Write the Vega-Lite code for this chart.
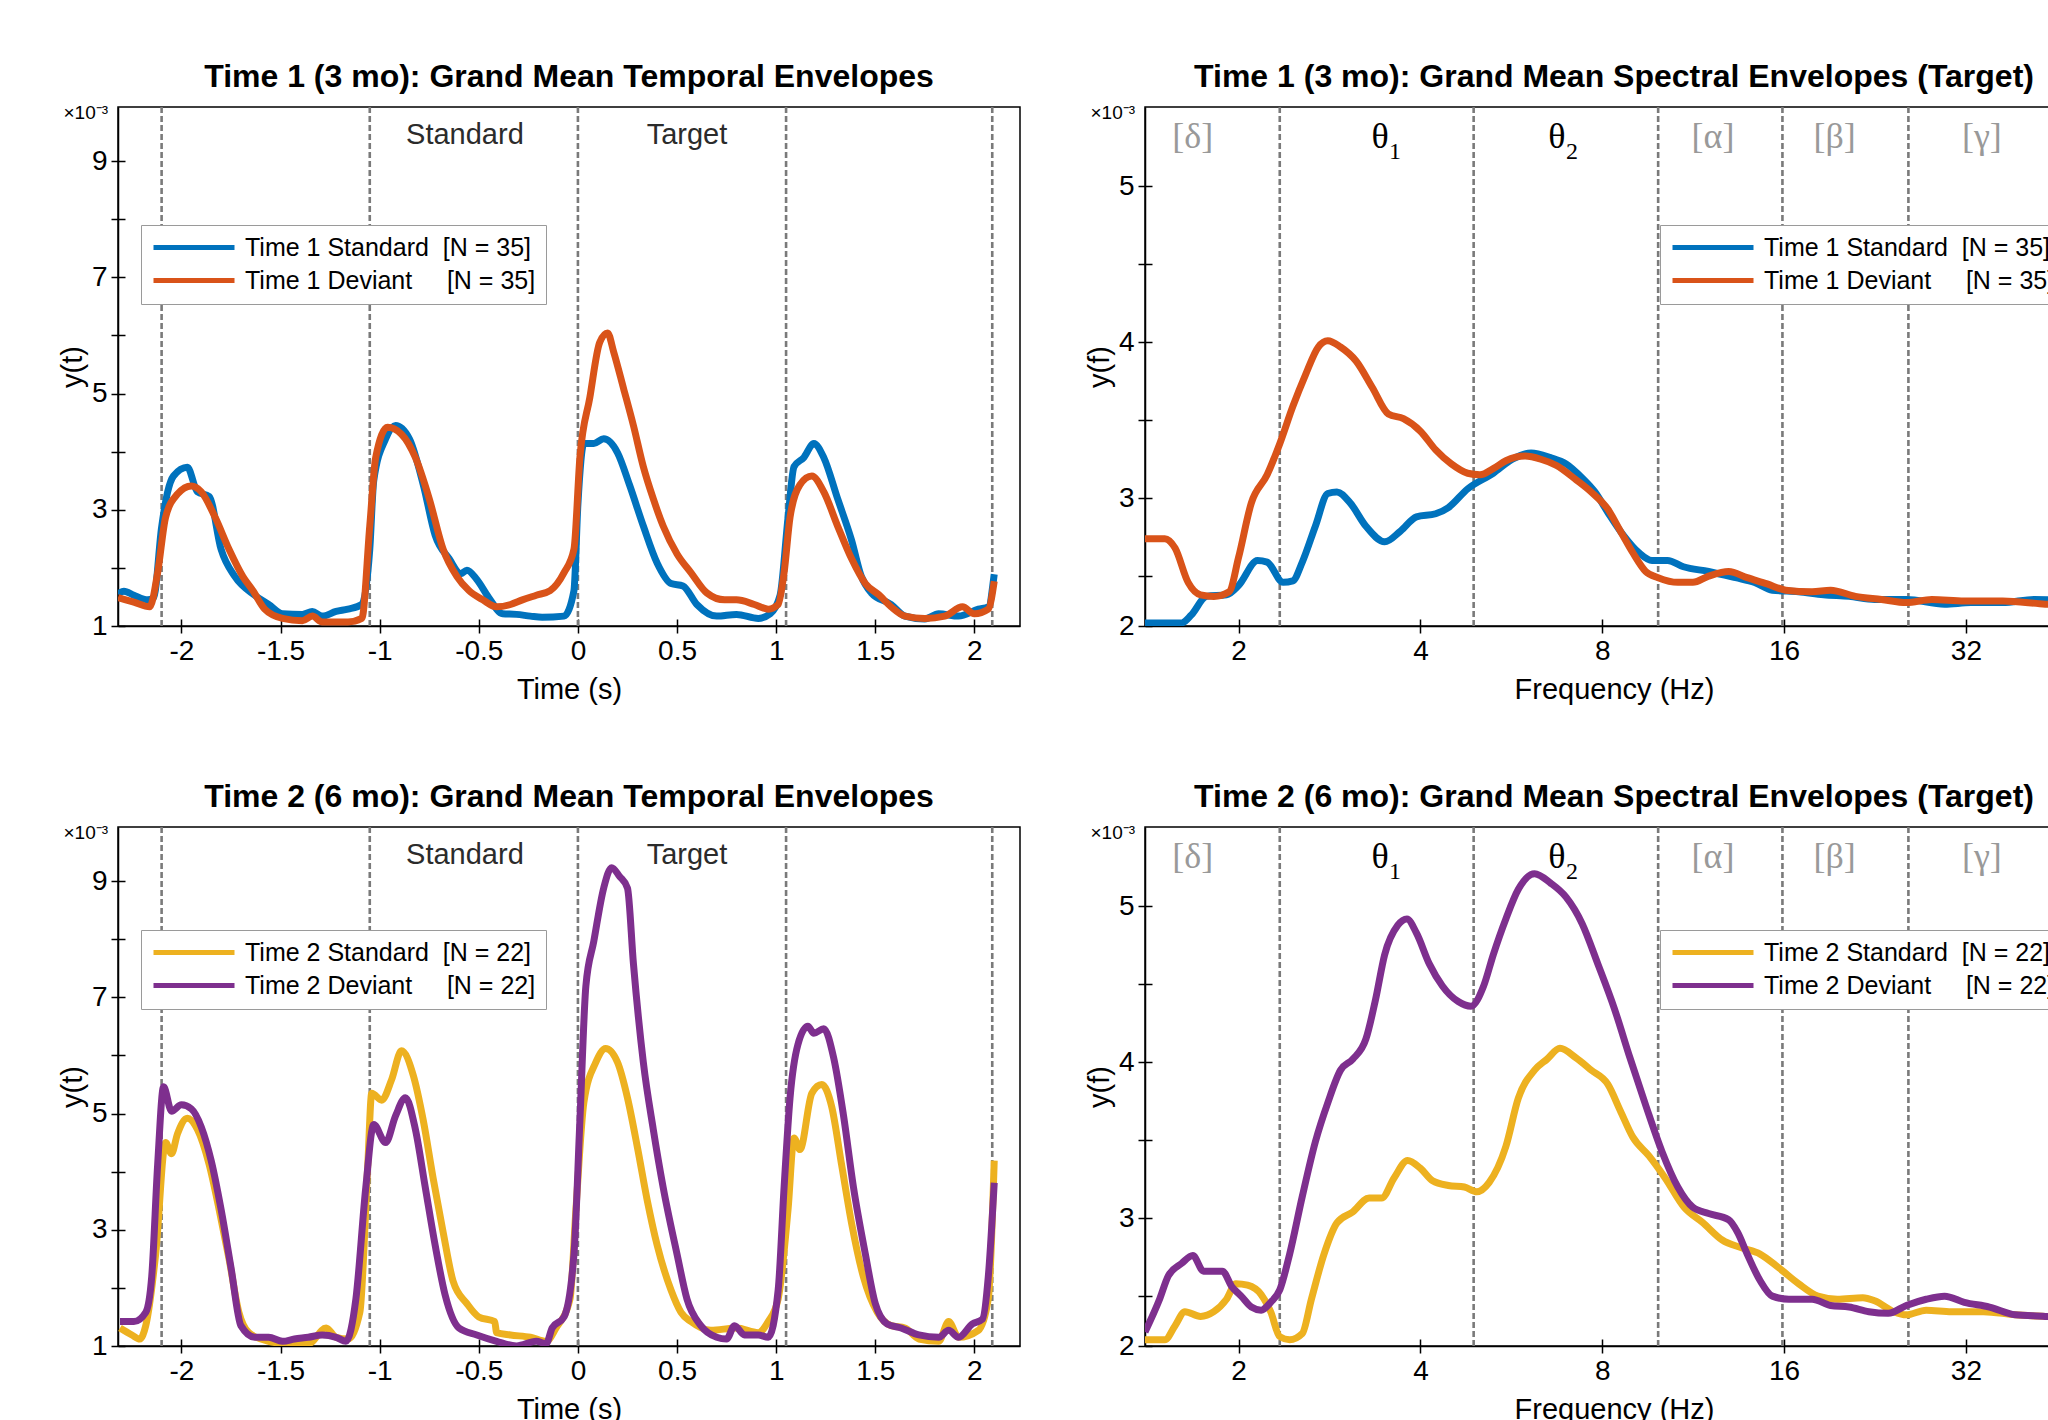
{
  "$schema": "https://vega.github.io/schema/vega-lite/v6.json",
  "padding": {"left": 57, "top": 60, "right": 0, "bottom": 0},
  "background": "white",
  "config": {
    "view": {"stroke": "black", "strokeWidth": 1.5},
    "font": "Liberation Sans",
    "axis": {"grid": false, "domainColor": "black", "domainWidth": 1.5, "tickColor": "black", "tickWidth": 1.5, "labelColor": "black", "titleColor": "black", "labelFont": "Liberation Sans", "titleFont": "Liberation Sans", "labelFontSize": 28, "titleFontSize": 29, "titleFontWeight": "normal", "labelFlush": false, "labelOverlap": false},
    "title": {"font": "Liberation Sans", "fontSize": 32, "fontWeight": "bold", "color": "black", "offset": 9},
    "legend": {"orient": "none", "direction": "vertical", "symbolType": "stroke", "symbolSize": 6561, "symbolStrokeWidth": 5, "clipHeight": 25, "labelFontSize": 25, "labelFont": "Liberation Sans", "labelColor": "black", "strokeColor": "#9a9a9a", "fillColor": "white", "padding": 10, "rowPadding": 7, "labelOffset": 8, "labelLimit": 600}
  },
  "datasets": {
    "t1_time": [
      {"s":"Standard","t":-2.32,"v":1.55},{"s":"Standard","t":-2.29,"v":1.6},{"s":"Standard","t":-2.24,"v":1.53},{"s":"Standard","t":-2.17,"v":1.45},{"s":"Standard","t":-2.14,"v":1.49},{"s":"Standard","t":-2.1,"v":2.7},{"s":"Standard","t":-2.07,"v":3.3},{"s":"Standard","t":-2.04,"v":3.58},{"s":"Standard","t":-1.97,"v":3.73},{"s":"Standard","t":-1.92,"v":3.31},{"s":"Standard","t":-1.86,"v":3.23},{"s":"Standard","t":-1.8,"v":2.32},{"s":"Standard","t":-1.73,"v":1.85},{"s":"Standard","t":-1.63,"v":1.53},{"s":"Standard","t":-1.56,"v":1.37},{"s":"Standard","t":-1.49,"v":1.21},{"s":"Standard","t":-1.39,"v":1.2},{"s":"Standard","t":-1.34,"v":1.25},{"s":"Standard","t":-1.29,"v":1.17},{"s":"Standard","t":-1.22,"v":1.25},{"s":"Standard","t":-1.16,"v":1.29},{"s":"Standard","t":-1.09,"v":1.37},{"s":"Standard","t":-1.05,"v":2.32},{"s":"Standard","t":-1.03,"v":3.5},{"s":"Standard","t":-0.97,"v":4.22},{"s":"Standard","t":-0.92,"v":4.45},{"s":"Standard","t":-0.85,"v":4.22},{"s":"Standard","t":-0.78,"v":3.43},{"s":"Standard","t":-0.72,"v":2.56},{"s":"Standard","t":-0.65,"v":2.16},{"s":"Standard","t":-0.59,"v":1.9},{"s":"Standard","t":-0.56,"v":1.96},{"s":"Standard","t":-0.51,"v":1.8},{"s":"Standard","t":-0.45,"v":1.49},{"s":"Standard","t":-0.38,"v":1.21},{"s":"Standard","t":-0.31,"v":1.2},{"s":"Standard","t":-0.24,"v":1.17},{"s":"Standard","t":-0.18,"v":1.15},{"s":"Standard","t":-0.07,"v":1.17},{"s":"Standard","t":-0.02,"v":1.61},{"s":"Standard","t":0.0,"v":3.1},{"s":"Standard","t":0.03,"v":4.14},{"s":"Standard","t":0.08,"v":4.14},{"s":"Standard","t":0.13,"v":4.22},{"s":"Standard","t":0.2,"v":3.98},{"s":"Standard","t":0.26,"v":3.43},{"s":"Standard","t":0.33,"v":2.72},{"s":"Standard","t":0.4,"v":2.08},{"s":"Standard","t":0.47,"v":1.73},{"s":"Standard","t":0.53,"v":1.69},{"s":"Standard","t":0.6,"v":1.37},{"s":"Standard","t":0.7,"v":1.17},{"s":"Standard","t":0.8,"v":1.2},{"s":"Standard","t":0.91,"v":1.13},{"s":"Standard","t":0.97,"v":1.21},{"s":"Standard","t":1.02,"v":1.53},{"s":"Standard","t":1.06,"v":2.87},{"s":"Standard","t":1.09,"v":3.74},{"s":"Standard","t":1.14,"v":3.9},{"s":"Standard","t":1.19,"v":4.14},{"s":"Standard","t":1.24,"v":3.9},{"s":"Standard","t":1.31,"v":3.19},{"s":"Standard","t":1.38,"v":2.48},{"s":"Standard","t":1.43,"v":1.85},{"s":"Standard","t":1.48,"v":1.57},{"s":"Standard","t":1.58,"v":1.37},{"s":"Standard","t":1.65,"v":1.17},{"s":"Standard","t":1.75,"v":1.12},{"s":"Standard","t":1.82,"v":1.21},{"s":"Standard","t":1.92,"v":1.17},{"s":"Standard","t":2.02,"v":1.29},{"s":"Standard","t":2.07,"v":1.33},{"s":"Standard","t":2.1,"v":1.89},
      {"s":"Deviant","t":-2.32,"v":1.49},{"s":"Deviant","t":-2.24,"v":1.41},{"s":"Deviant","t":-2.16,"v":1.33},{"s":"Deviant","t":-2.12,"v":1.92},{"s":"Deviant","t":-2.08,"v":2.87},{"s":"Deviant","t":-2.02,"v":3.27},{"s":"Deviant","t":-1.95,"v":3.41},{"s":"Deviant","t":-1.9,"v":3.31},{"s":"Deviant","t":-1.83,"v":2.87},{"s":"Deviant","t":-1.76,"v":2.32},{"s":"Deviant","t":-1.69,"v":1.85},{"s":"Deviant","t":-1.64,"v":1.61},{"s":"Deviant","t":-1.58,"v":1.29},{"s":"Deviant","t":-1.49,"v":1.13},{"s":"Deviant","t":-1.39,"v":1.09},{"s":"Deviant","t":-1.34,"v":1.17},{"s":"Deviant","t":-1.29,"v":1.07},{"s":"Deviant","t":-1.16,"v":1.07},{"s":"Deviant","t":-1.09,"v":1.13},{"s":"Deviant","t":-1.05,"v":2.72},{"s":"Deviant","t":-1.02,"v":3.9},{"s":"Deviant","t":-0.96,"v":4.42},{"s":"Deviant","t":-0.89,"v":4.3},{"s":"Deviant","t":-0.82,"v":3.9},{"s":"Deviant","t":-0.75,"v":3.19},{"s":"Deviant","t":-0.68,"v":2.32},{"s":"Deviant","t":-0.61,"v":1.85},{"s":"Deviant","t":-0.55,"v":1.61},{"s":"Deviant","t":-0.48,"v":1.45},{"s":"Deviant","t":-0.41,"v":1.33},{"s":"Deviant","t":-0.34,"v":1.37},{"s":"Deviant","t":-0.28,"v":1.45},{"s":"Deviant","t":-0.21,"v":1.53},{"s":"Deviant","t":-0.14,"v":1.61},{"s":"Deviant","t":-0.07,"v":1.92},{"s":"Deviant","t":-0.02,"v":2.32},{"s":"Deviant","t":0.01,"v":3.9},{"s":"Deviant","t":0.06,"v":4.93},{"s":"Deviant","t":0.11,"v":5.88},{"s":"Deviant","t":0.15,"v":6.04},{"s":"Deviant","t":0.18,"v":5.72},{"s":"Deviant","t":0.23,"v":5.09},{"s":"Deviant","t":0.28,"v":4.45},{"s":"Deviant","t":0.33,"v":3.74},{"s":"Deviant","t":0.38,"v":3.19},{"s":"Deviant","t":0.43,"v":2.72},{"s":"Deviant","t":0.5,"v":2.24},{"s":"Deviant","t":0.57,"v":1.92},{"s":"Deviant","t":0.65,"v":1.57},{"s":"Deviant","t":0.74,"v":1.45},{"s":"Deviant","t":0.8,"v":1.45},{"s":"Deviant","t":0.89,"v":1.37},{"s":"Deviant","t":0.96,"v":1.29},{"s":"Deviant","t":1.01,"v":1.37},{"s":"Deviant","t":1.04,"v":1.92},{"s":"Deviant","t":1.07,"v":2.87},{"s":"Deviant","t":1.12,"v":3.43},{"s":"Deviant","t":1.18,"v":3.58},{"s":"Deviant","t":1.24,"v":3.31},{"s":"Deviant","t":1.31,"v":2.72},{"s":"Deviant","t":1.38,"v":2.16},{"s":"Deviant","t":1.45,"v":1.73},{"s":"Deviant","t":1.52,"v":1.53},{"s":"Deviant","t":1.58,"v":1.33},{"s":"Deviant","t":1.65,"v":1.17},{"s":"Deviant","t":1.75,"v":1.13},{"s":"Deviant","t":1.85,"v":1.17},{"s":"Deviant","t":1.94,"v":1.33},{"s":"Deviant","t":2.0,"v":1.21},{"s":"Deviant","t":2.07,"v":1.29},{"s":"Deviant","t":2.1,"v":1.77}
    ],
    "t2_time": [
      {"s":"Standard","t":-2.31,"v":1.31},{"s":"Standard","t":-2.25,"v":1.19},{"s":"Standard","t":-2.21,"v":1.12},{"s":"Standard","t":-2.18,"v":1.35},{"s":"Standard","t":-2.13,"v":2.58},{"s":"Standard","t":-2.08,"v":4.5},{"s":"Standard","t":-2.05,"v":4.31},{"s":"Standard","t":-2.02,"v":4.65},{"s":"Standard","t":-1.97,"v":4.92},{"s":"Standard","t":-1.92,"v":4.73},{"s":"Standard","t":-1.86,"v":4.12},{"s":"Standard","t":-1.81,"v":3.35},{"s":"Standard","t":-1.76,"v":2.5},{"s":"Standard","t":-1.71,"v":1.58},{"s":"Standard","t":-1.66,"v":1.23},{"s":"Standard","t":-1.56,"v":1.08},{"s":"Standard","t":-1.46,"v":1.04},{"s":"Standard","t":-1.36,"v":1.04},{"s":"Standard","t":-1.27,"v":1.31},{"s":"Standard","t":-1.22,"v":1.15},{"s":"Standard","t":-1.16,"v":1.12},{"s":"Standard","t":-1.1,"v":1.58},{"s":"Standard","t":-1.06,"v":4.12},{"s":"Standard","t":-1.04,"v":5.35},{"s":"Standard","t":-0.99,"v":5.23},{"s":"Standard","t":-0.94,"v":5.58},{"s":"Standard","t":-0.89,"v":6.08},{"s":"Standard","t":-0.83,"v":5.65},{"s":"Standard","t":-0.78,"v":4.88},{"s":"Standard","t":-0.73,"v":3.88},{"s":"Standard","t":-0.68,"v":2.96},{"s":"Standard","t":-0.63,"v":2.12},{"s":"Standard","t":-0.56,"v":1.73},{"s":"Standard","t":-0.5,"v":1.5},{"s":"Standard","t":-0.42,"v":1.42},{"s":"Standard","t":-0.41,"v":1.23},{"s":"Standard","t":-0.34,"v":1.19},{"s":"Standard","t":-0.24,"v":1.15},{"s":"Standard","t":-0.16,"v":1.08},{"s":"Standard","t":-0.11,"v":1.31},{"s":"Standard","t":-0.04,"v":1.81},{"s":"Standard","t":-0.01,"v":3.35},{"s":"Standard","t":0.03,"v":5.19},{"s":"Standard","t":0.09,"v":5.88},{"s":"Standard","t":0.14,"v":6.12},{"s":"Standard","t":0.2,"v":5.88},{"s":"Standard","t":0.25,"v":5.27},{"s":"Standard","t":0.3,"v":4.42},{"s":"Standard","t":0.35,"v":3.5},{"s":"Standard","t":0.4,"v":2.73},{"s":"Standard","t":0.47,"v":1.96},{"s":"Standard","t":0.52,"v":1.58},{"s":"Standard","t":0.57,"v":1.42},{"s":"Standard","t":0.67,"v":1.27},{"s":"Standard","t":0.8,"v":1.31},{"s":"Standard","t":0.91,"v":1.23},{"s":"Standard","t":0.96,"v":1.42},{"s":"Standard","t":1.01,"v":1.81},{"s":"Standard","t":1.06,"v":3.35},{"s":"Standard","t":1.09,"v":4.58},{"s":"Standard","t":1.12,"v":4.38},{"s":"Standard","t":1.18,"v":5.35},{"s":"Standard","t":1.23,"v":5.5},{"s":"Standard","t":1.28,"v":5.12},{"s":"Standard","t":1.33,"v":4.12},{"s":"Standard","t":1.38,"v":3.12},{"s":"Standard","t":1.44,"v":2.19},{"s":"Standard","t":1.51,"v":1.58},{"s":"Standard","t":1.58,"v":1.35},{"s":"Standard","t":1.65,"v":1.31},{"s":"Standard","t":1.72,"v":1.12},{"s":"Standard","t":1.82,"v":1.08},{"s":"Standard","t":1.87,"v":1.42},{"s":"Standard","t":1.92,"v":1.15},{"s":"Standard","t":2.02,"v":1.27},{"s":"Standard","t":2.07,"v":1.81},{"s":"Standard","t":2.1,"v":4.19},
      {"s":"Deviant","t":-2.31,"v":1.42},{"s":"Deviant","t":-2.24,"v":1.42},{"s":"Deviant","t":-2.18,"v":1.58},{"s":"Deviant","t":-2.15,"v":2.19},{"s":"Deviant","t":-2.12,"v":4.12},{"s":"Deviant","t":-2.09,"v":5.46},{"s":"Deviant","t":-2.05,"v":5.04},{"s":"Deviant","t":-2.0,"v":5.15},{"s":"Deviant","t":-1.95,"v":5.08},{"s":"Deviant","t":-1.9,"v":4.77},{"s":"Deviant","t":-1.85,"v":4.19},{"s":"Deviant","t":-1.8,"v":3.35},{"s":"Deviant","t":-1.75,"v":2.35},{"s":"Deviant","t":-1.7,"v":1.35},{"s":"Deviant","t":-1.63,"v":1.15},{"s":"Deviant","t":-1.56,"v":1.15},{"s":"Deviant","t":-1.49,"v":1.08},{"s":"Deviant","t":-1.43,"v":1.12},{"s":"Deviant","t":-1.36,"v":1.15},{"s":"Deviant","t":-1.29,"v":1.19},{"s":"Deviant","t":-1.22,"v":1.15},{"s":"Deviant","t":-1.17,"v":1.08},{"s":"Deviant","t":-1.12,"v":1.81},{"s":"Deviant","t":-1.07,"v":3.73},{"s":"Deviant","t":-1.03,"v":4.81},{"s":"Deviant","t":-0.97,"v":4.5},{"s":"Deviant","t":-0.92,"v":4.96},{"s":"Deviant","t":-0.87,"v":5.27},{"s":"Deviant","t":-0.82,"v":4.73},{"s":"Deviant","t":-0.77,"v":3.73},{"s":"Deviant","t":-0.72,"v":2.73},{"s":"Deviant","t":-0.67,"v":1.88},{"s":"Deviant","t":-0.6,"v":1.31},{"s":"Deviant","t":-0.51,"v":1.19},{"s":"Deviant","t":-0.41,"v":1.08},{"s":"Deviant","t":-0.31,"v":1.0},{"s":"Deviant","t":-0.21,"v":1.08},{"s":"Deviant","t":-0.16,"v":1.04},{"s":"Deviant","t":-0.13,"v":1.31},{"s":"Deviant","t":-0.07,"v":1.5},{"s":"Deviant","t":-0.02,"v":2.58},{"s":"Deviant","t":0.01,"v":4.88},{"s":"Deviant","t":0.04,"v":7.19},{"s":"Deviant","t":0.08,"v":7.96},{"s":"Deviant","t":0.13,"v":8.88},{"s":"Deviant","t":0.17,"v":9.23},{"s":"Deviant","t":0.21,"v":9.08},{"s":"Deviant","t":0.25,"v":8.88},{"s":"Deviant","t":0.28,"v":7.58},{"s":"Deviant","t":0.33,"v":5.88},{"s":"Deviant","t":0.38,"v":4.73},{"s":"Deviant","t":0.43,"v":3.73},{"s":"Deviant","t":0.5,"v":2.58},{"s":"Deviant","t":0.55,"v":1.81},{"s":"Deviant","t":0.62,"v":1.35},{"s":"Deviant","t":0.7,"v":1.15},{"s":"Deviant","t":0.75,"v":1.12},{"s":"Deviant","t":0.79,"v":1.35},{"s":"Deviant","t":0.84,"v":1.19},{"s":"Deviant","t":0.91,"v":1.19},{"s":"Deviant","t":0.96,"v":1.15},{"s":"Deviant","t":1.01,"v":1.96},{"s":"Deviant","t":1.04,"v":3.73},{"s":"Deviant","t":1.07,"v":5.27},{"s":"Deviant","t":1.11,"v":6.19},{"s":"Deviant","t":1.16,"v":6.5},{"s":"Deviant","t":1.19,"v":6.38},{"s":"Deviant","t":1.24,"v":6.46},{"s":"Deviant","t":1.29,"v":5.96},{"s":"Deviant","t":1.34,"v":4.96},{"s":"Deviant","t":1.39,"v":3.73},{"s":"Deviant","t":1.45,"v":2.58},{"s":"Deviant","t":1.5,"v":1.73},{"s":"Deviant","t":1.56,"v":1.38},{"s":"Deviant","t":1.63,"v":1.31},{"s":"Deviant","t":1.72,"v":1.19},{"s":"Deviant","t":1.82,"v":1.15},{"s":"Deviant","t":1.87,"v":1.27},{"s":"Deviant","t":1.92,"v":1.15},{"s":"Deviant","t":1.99,"v":1.38},{"s":"Deviant","t":2.04,"v":1.46},{"s":"Deviant","t":2.07,"v":2.19},{"s":"Deviant","t":2.1,"v":3.81}
    ],
    "t1_freq": [
      {"s":"Standard","f":1.4,"v":2.2},{"s":"Standard","f":1.61,"v":2.2},{"s":"Standard","f":1.67,"v":2.25},{"s":"Standard","f":1.77,"v":2.37},{"s":"Standard","f":1.91,"v":2.38},{"s":"Standard","f":2.0,"v":2.44},{"s":"Standard","f":2.15,"v":2.6},{"s":"Standard","f":2.23,"v":2.59},{"s":"Standard","f":2.37,"v":2.46},{"s":"Standard","f":2.46,"v":2.47},{"s":"Standard","f":2.55,"v":2.59},{"s":"Standard","f":2.68,"v":2.82},{"s":"Standard","f":2.81,"v":3.03},{"s":"Standard","f":2.91,"v":3.04},{"s":"Standard","f":3.06,"v":2.97},{"s":"Standard","f":3.25,"v":2.82},{"s":"Standard","f":3.49,"v":2.72},{"s":"Standard","f":3.71,"v":2.79},{"s":"Standard","f":3.94,"v":2.88},{"s":"Standard","f":4.24,"v":2.9},{"s":"Standard","f":4.45,"v":2.94},{"s":"Standard","f":4.79,"v":3.06},{"s":"Standard","f":5.28,"v":3.16},{"s":"Standard","f":5.68,"v":3.25},{"s":"Standard","f":6.1,"v":3.29},{"s":"Standard","f":6.57,"v":3.26},{"s":"Standard","f":6.97,"v":3.22},{"s":"Standard","f":7.41,"v":3.13},{"s":"Standard","f":7.78,"v":3.04},{"s":"Standard","f":8.17,"v":2.91},{"s":"Standard","f":8.68,"v":2.76},{"s":"Standard","f":9.2,"v":2.65},{"s":"Standard","f":9.67,"v":2.6},{"s":"Standard","f":10.26,"v":2.6},{"s":"Standard","f":10.9,"v":2.56},{"s":"Standard","f":12.0,"v":2.53},{"s":"Standard","f":13.3,"v":2.49},{"s":"Standard","f":14.3,"v":2.46},{"s":"Standard","f":15.3,"v":2.41},{"s":"Standard","f":16.9,"v":2.4},{"s":"Standard","f":18.6,"v":2.38},{"s":"Standard","f":20.5,"v":2.37},{"s":"Standard","f":22.6,"v":2.35},{"s":"Standard","f":25.5,"v":2.35},{"s":"Standard","f":29.5,"v":2.32},{"s":"Standard","f":32.6,"v":2.33},{"s":"Standard","f":36.8,"v":2.33},{"s":"Standard","f":41.5,"v":2.35},{"s":"Standard","f":50,"v":2.34},
      {"s":"Deviant","f":1.4,"v":2.74},{"s":"Deviant","f":1.51,"v":2.74},{"s":"Deviant","f":1.57,"v":2.68},{"s":"Deviant","f":1.65,"v":2.46},{"s":"Deviant","f":1.73,"v":2.38},{"s":"Deviant","f":1.82,"v":2.37},{"s":"Deviant","f":1.93,"v":2.4},{"s":"Deviant","f":2.0,"v":2.62},{"s":"Deviant","f":2.1,"v":2.97},{"s":"Deviant","f":2.23,"v":3.15},{"s":"Deviant","f":2.34,"v":3.35},{"s":"Deviant","f":2.46,"v":3.59},{"s":"Deviant","f":2.58,"v":3.79},{"s":"Deviant","f":2.71,"v":3.97},{"s":"Deviant","f":2.81,"v":4.01},{"s":"Deviant","f":2.95,"v":3.97},{"s":"Deviant","f":3.13,"v":3.88},{"s":"Deviant","f":3.33,"v":3.71},{"s":"Deviant","f":3.54,"v":3.54},{"s":"Deviant","f":3.75,"v":3.51},{"s":"Deviant","f":4.0,"v":3.43},{"s":"Deviant","f":4.24,"v":3.31},{"s":"Deviant","f":4.5,"v":3.22},{"s":"Deviant","f":4.79,"v":3.16},{"s":"Deviant","f":5.02,"v":3.15},{"s":"Deviant","f":5.28,"v":3.19},{"s":"Deviant","f":5.54,"v":3.24},{"s":"Deviant","f":5.96,"v":3.27},{"s":"Deviant","f":6.33,"v":3.25},{"s":"Deviant","f":6.72,"v":3.21},{"s":"Deviant","f":7.23,"v":3.12},{"s":"Deviant","f":7.67,"v":3.04},{"s":"Deviant","f":8.17,"v":2.93},{"s":"Deviant","f":8.57,"v":2.79},{"s":"Deviant","f":8.99,"v":2.65},{"s":"Deviant","f":9.44,"v":2.53},{"s":"Deviant","f":9.9,"v":2.49},{"s":"Deviant","f":10.67,"v":2.46},{"s":"Deviant","f":11.3,"v":2.46},{"s":"Deviant","f":12.0,"v":2.5},{"s":"Deviant","f":12.95,"v":2.53},{"s":"Deviant","f":13.9,"v":2.49},{"s":"Deviant","f":15.0,"v":2.45},{"s":"Deviant","f":16.1,"v":2.41},{"s":"Deviant","f":17.8,"v":2.4},{"s":"Deviant","f":19.1,"v":2.41},{"s":"Deviant","f":21.0,"v":2.37},{"s":"Deviant","f":23.2,"v":2.35},{"s":"Deviant","f":25.5,"v":2.33},{"s":"Deviant","f":28.1,"v":2.35},{"s":"Deviant","f":31.8,"v":2.34},{"s":"Deviant","f":36.8,"v":2.34},{"s":"Deviant","f":43.3,"v":2.32},{"s":"Deviant","f":50,"v":2.31}
    ],
    "t2_freq": [
      {"s":"Standard","f":1.4,"v":2.22},{"s":"Standard","f":1.51,"v":2.22},{"s":"Standard","f":1.57,"v":2.31},{"s":"Standard","f":1.63,"v":2.4},{"s":"Standard","f":1.73,"v":2.37},{"s":"Standard","f":1.82,"v":2.4},{"s":"Standard","f":1.91,"v":2.48},{"s":"Standard","f":1.98,"v":2.58},{"s":"Standard","f":2.07,"v":2.57},{"s":"Standard","f":2.18,"v":2.51},{"s":"Standard","f":2.26,"v":2.4},{"s":"Standard","f":2.34,"v":2.24},{"s":"Standard","f":2.43,"v":2.22},{"s":"Standard","f":2.55,"v":2.26},{"s":"Standard","f":2.64,"v":2.48},{"s":"Standard","f":2.77,"v":2.77},{"s":"Standard","f":2.91,"v":2.97},{"s":"Standard","f":3.09,"v":3.04},{"s":"Standard","f":3.29,"v":3.13},{"s":"Standard","f":3.45,"v":3.13},{"s":"Standard","f":3.62,"v":3.26},{"s":"Standard","f":3.81,"v":3.37},{"s":"Standard","f":4.0,"v":3.32},{"s":"Standard","f":4.19,"v":3.24},{"s":"Standard","f":4.45,"v":3.21},{"s":"Standard","f":4.73,"v":3.2},{"s":"Standard","f":4.96,"v":3.17},{"s":"Standard","f":5.2,"v":3.23},{"s":"Standard","f":5.54,"v":3.46},{"s":"Standard","f":5.81,"v":3.77},{"s":"Standard","f":6.18,"v":3.95},{"s":"Standard","f":6.48,"v":4.02},{"s":"Standard","f":6.81,"v":4.09},{"s":"Standard","f":7.23,"v":4.03},{"s":"Standard","f":7.67,"v":3.95},{"s":"Standard","f":8.17,"v":3.86},{"s":"Standard","f":8.57,"v":3.69},{"s":"Standard","f":8.99,"v":3.52},{"s":"Standard","f":9.56,"v":3.4},{"s":"Standard","f":10.16,"v":3.26},{"s":"Standard","f":10.93,"v":3.07},{"s":"Standard","f":11.75,"v":2.97},{"s":"Standard","f":12.64,"v":2.86},{"s":"Standard","f":13.6,"v":2.81},{"s":"Standard","f":14.6,"v":2.77},{"s":"Standard","f":15.7,"v":2.68},{"s":"Standard","f":16.9,"v":2.58},{"s":"Standard","f":18.2,"v":2.5},{"s":"Standard","f":19.6,"v":2.48},{"s":"Standard","f":21.6,"v":2.49},{"s":"Standard","f":22.6,"v":2.47},{"s":"Standard","f":24.3,"v":2.4},{"s":"Standard","f":25.5,"v":2.38},{"s":"Standard","f":27.5,"v":2.41},{"s":"Standard","f":30.3,"v":2.4},{"s":"Standard","f":34.2,"v":2.4},{"s":"Standard","f":38.6,"v":2.38},{"s":"Standard","f":43.3,"v":2.37},{"s":"Standard","f":50,"v":2.36},
      {"s":"Deviant","f":1.4,"v":2.27},{"s":"Deviant","f":1.48,"v":2.48},{"s":"Deviant","f":1.53,"v":2.63},{"s":"Deviant","f":1.61,"v":2.71},{"s":"Deviant","f":1.68,"v":2.76},{"s":"Deviant","f":1.75,"v":2.66},{"s":"Deviant","f":1.82,"v":2.66},{"s":"Deviant","f":1.88,"v":2.66},{"s":"Deviant","f":1.95,"v":2.56},{"s":"Deviant","f":2.02,"v":2.5},{"s":"Deviant","f":2.1,"v":2.43},{"s":"Deviant","f":2.18,"v":2.41},{"s":"Deviant","f":2.26,"v":2.46},{"s":"Deviant","f":2.34,"v":2.54},{"s":"Deviant","f":2.43,"v":2.77},{"s":"Deviant","f":2.55,"v":3.14},{"s":"Deviant","f":2.68,"v":3.49},{"s":"Deviant","f":2.81,"v":3.74},{"s":"Deviant","f":2.95,"v":3.95},{"s":"Deviant","f":3.09,"v":4.02},{"s":"Deviant","f":3.25,"v":4.15},{"s":"Deviant","f":3.37,"v":4.4},{"s":"Deviant","f":3.49,"v":4.69},{"s":"Deviant","f":3.67,"v":4.88},{"s":"Deviant","f":3.8,"v":4.92},{"s":"Deviant","f":3.94,"v":4.83},{"s":"Deviant","f":4.14,"v":4.63},{"s":"Deviant","f":4.35,"v":4.49},{"s":"Deviant","f":4.62,"v":4.39},{"s":"Deviant","f":4.85,"v":4.36},{"s":"Deviant","f":5.09,"v":4.49},{"s":"Deviant","f":5.28,"v":4.69},{"s":"Deviant","f":5.54,"v":4.92},{"s":"Deviant","f":5.81,"v":5.11},{"s":"Deviant","f":6.18,"v":5.21},{"s":"Deviant","f":6.57,"v":5.15},{"s":"Deviant","f":6.97,"v":5.06},{"s":"Deviant","f":7.41,"v":4.89},{"s":"Deviant","f":7.87,"v":4.63},{"s":"Deviant","f":8.37,"v":4.35},{"s":"Deviant","f":8.89,"v":4.03},{"s":"Deviant","f":9.45,"v":3.72},{"s":"Deviant","f":10.04,"v":3.43},{"s":"Deviant","f":10.67,"v":3.2},{"s":"Deviant","f":11.3,"v":3.07},{"s":"Deviant","f":12.0,"v":3.03},{"s":"Deviant","f":12.95,"v":2.99},{"s":"Deviant","f":13.4,"v":2.91},{"s":"Deviant","f":13.9,"v":2.77},{"s":"Deviant","f":14.6,"v":2.6},{"s":"Deviant","f":15.3,"v":2.5},{"s":"Deviant","f":16.3,"v":2.48},{"s":"Deviant","f":17.8,"v":2.48},{"s":"Deviant","f":19.1,"v":2.44},{"s":"Deviant","f":20.5,"v":2.43},{"s":"Deviant","f":22.1,"v":2.4},{"s":"Deviant","f":23.8,"v":2.39},{"s":"Deviant","f":25.5,"v":2.44},{"s":"Deviant","f":27.5,"v":2.48},{"s":"Deviant","f":29.5,"v":2.5},{"s":"Deviant","f":31.8,"v":2.46},{"s":"Deviant","f":35.0,"v":2.43},{"s":"Deviant","f":38.6,"v":2.38},{"s":"Deviant","f":43.3,"v":2.37},{"s":"Deviant","f":50,"v":2.35}
    ]
  },
  "spacing": 720,
  "bounds": "flush",
  "resolve": {"scale": {"color": "independent"}, "legend": {"color": "independent"}},
  "vconcat": [
    {
      "hconcat": [
        {
          "width": 902, "height": 519,
          "title": "Time 1 (3 mo): Grand Mean Temporal Envelopes",
          "layer": [
            {"data": {"values": [{"t": -2.1}, {"t": -1.05}, {"t": 0}, {"t": 1.05}, {"t": 2.09}]},
             "mark": {"type": "rule", "color": "#7a7a7a", "strokeWidth": 2.6, "strokeDash": [6, 3]},
             "encoding": {"x": {"field": "t", "type": "quantitative", "scale": {"domain": [-2.32, 2.23], "nice": false, "zero": false}, "axis": null}}},
            {"data": {"name": "t1_time"},
             "mark": {"type": "line", "strokeWidth": 7, "strokeJoin": "round", "interpolate": "monotone", "clip": true},
             "encoding": {
               "x": {"field": "t", "type": "quantitative", "scale": {"domain": [-2.32, 2.23], "nice": false, "zero": false},
                     "axis": {"orient": "bottom", "values": [-2, -1.5, -1, -0.5, 0, 0.5, 1, 1.5, 2], "labelExpr": "toString(datum.value)", "tickSize": 7, "labelPadding": 4, "title": "Time (s)", "titlePadding": 10}},
               "y": {"field": "v", "type": "quantitative", "scale": {"domain": [1, 9.93], "nice": false, "zero": false},
                     "axis": {"orient": "left", "values": [1, 2, 3, 4, 5, 6, 7, 8, 9], "labelExpr": "datum.value % 2 == 1 ? toString(datum.value) : ''", "tickSize": 7, "labelPadding": 4, "title": "y(t)", "titlePadding": 4}},
               "color": {"field": "s", "type": "nominal", "scale": {"domain": ["Standard", "Deviant"], "range": ["#0072BD", "#D95319"]},
                         "legend": {"title": null, "legendX": 23, "legendY": 118, "labelExpr": "datum.label == 'Standard' ? 'Time 1 Standard\u00a0\u00a0[N = 35]' : 'Time 1 Deviant\u00a0\u00a0\u00a0\u00a0\u00a0[N = 35]'"}}
             }},
            {"data": {"values": [{"t": -0.57, "v": 9.45, "label": "Standard"}, {"t": 0.55, "v": 9.45, "label": "Target"}]},
             "mark": {"type": "text", "fontSize": 29, "color": "#2b2b2b", "baseline": "middle", "align": "center"},
             "encoding": {
               "x": {"field": "t", "type": "quantitative", "axis": {"orient": "bottom", "values": [-2, -1.5, -1, -0.5, 0, 0.5, 1, 1.5, 2], "tickSize": -7, "labels": false, "domain": false, "title": null}},
               "y": {"field": "v", "type": "quantitative", "axis": {"orient": "left", "values": [1, 2, 3, 4, 5, 6, 7, 8, 9], "tickSize": -7, "labels": false, "domain": false, "title": "×10⁻³", "titleAngle": 0, "titleAlign": "left", "titleBaseline": "middle", "titleX": -55, "titleY": 5, "titleFontSize": 19}},
               "text": {"field": "label"}
             }}
          ],
          "resolve": {"axis": {"x": "independent", "y": "independent"}}
        },
        {
          "width": 938, "height": 519,
          "title": "Time 1 (3 mo): Grand Mean Spectral Envelopes (Target)",
          "layer": [
            {"data": {"values": [{"f": 2.34}, {"f": 4.9}, {"f": 9.9}, {"f": 15.9}, {"f": 25.7}]},
             "mark": {"type": "rule", "color": "#7a7a7a", "strokeWidth": 2.6, "strokeDash": [6, 3]},
             "encoding": {"x": {"field": "f", "type": "quantitative", "scale": {"type": "log", "base": 2, "domain": [1.4, 50], "nice": false}, "axis": null}}},
            {"data": {"name": "t1_freq"},
             "mark": {"type": "line", "strokeWidth": 7, "strokeJoin": "round", "interpolate": "monotone", "clip": true},
             "encoding": {
               "x": {"field": "f", "type": "quantitative", "scale": {"type": "log", "base": 2, "domain": [1.4, 50], "nice": false},
                     "axis": {"orient": "bottom", "values": [2, 4, 8, 16, 32], "labelExpr": "toString(datum.value)", "tickSize": 7, "labelPadding": 4, "title": "Frequency (Hz)", "titlePadding": 10}},
               "y": {"field": "v", "type": "quantitative", "scale": {"domain": [2.18, 5.51], "nice": false, "zero": false},
                     "axis": {"orient": "left", "values": [2.18, 2.5, 3, 3.5, 4, 4.5, 5], "labelExpr": "datum.value < 2.3 ? '2' : (datum.value == floor(datum.value) ? toString(datum.value) : '')", "tickSize": 7, "labelPadding": 4, "title": "y(f)", "titlePadding": 4}},
               "color": {"field": "s", "type": "nominal", "scale": {"domain": ["Standard", "Deviant"], "range": ["#0072BD", "#D95319"]},
                         "legend": {"title": null, "legendX": 515, "legendY": 118, "labelExpr": "datum.label == 'Standard' ? 'Time 1 Standard\u00a0\u00a0[N = 35]' : 'Time 1 Deviant\u00a0\u00a0\u00a0\u00a0\u00a0[N = 35]'"}}
             }},
            {"data": {"values": [{"f": 1.68, "v": 5.32, "label": "[δ]"}, {"f": 12.2, "v": 5.32, "label": "[α]"}, {"f": 19.4, "v": 5.32, "label": "[β]"}, {"f": 34.0, "v": 5.32, "label": "[γ]"}]},
             "mark": {"type": "text", "font": "Liberation Serif", "fontSize": 36, "color": "#999999", "baseline": "middle", "align": "center"},
             "encoding": {
               "x": {"field": "f", "type": "quantitative", "axis": {"orient": "bottom", "values": [2, 4, 8, 16, 32], "tickSize": -7, "labels": false, "domain": false, "title": null}},
               "y": {"field": "v", "type": "quantitative", "axis": {"orient": "left", "values": [2.18, 2.5, 3, 3.5, 4, 4.5, 5], "tickSize": -7, "labels": false, "domain": false, "title": "×10⁻³", "titleAngle": 0, "titleAlign": "left", "titleBaseline": "middle", "titleX": -55, "titleY": 5, "titleFontSize": 19}},
               "text": {"field": "label"}
             }},
            {"data": {"values": [{"f": 3.43, "v": 5.32, "label": "θ"}, {"f": 6.73, "v": 5.32, "label": "θ"}]},
             "mark": {"type": "text", "font": "Liberation Serif", "fontSize": 36, "color": "black", "baseline": "middle", "align": "center"},
             "encoding": {"x": {"field": "f", "type": "quantitative", "axis": null}, "y": {"field": "v", "type": "quantitative", "axis": null}, "text": {"field": "label"}}},
            {"data": {"values": [{"f": 3.43, "v": 5.32, "sub": "1"}, {"f": 6.73, "v": 5.32, "sub": "2"}]},
             "mark": {"type": "text", "font": "Liberation Serif", "fontSize": 24, "color": "black", "baseline": "middle", "align": "left", "dx": 9, "dy": 15},
             "encoding": {"x": {"field": "f", "type": "quantitative", "axis": null}, "y": {"field": "v", "type": "quantitative", "axis": null}, "text": {"field": "sub"}}}
          ],
          "resolve": {"axis": {"x": "independent", "y": "independent"}}
        }
      ],
      "spacing": 125, "bounds": "flush",
      "resolve": {"scale": {"color": "independent"}, "legend": {"color": "independent"}}
    },
    {
      "hconcat": [
        {
          "width": 902, "height": 519,
          "title": "Time 2 (6 mo): Grand Mean Temporal Envelopes",
          "layer": [
            {"data": {"values": [{"t": -2.1}, {"t": -1.05}, {"t": 0}, {"t": 1.05}, {"t": 2.09}]},
             "mark": {"type": "rule", "color": "#7a7a7a", "strokeWidth": 2.6, "strokeDash": [6, 3]},
             "encoding": {"x": {"field": "t", "type": "quantitative", "scale": {"domain": [-2.32, 2.23], "nice": false, "zero": false}, "axis": null}}},
            {"data": {"name": "t2_time"},
             "mark": {"type": "line", "strokeWidth": 7, "strokeJoin": "round", "interpolate": "monotone", "clip": true},
             "encoding": {
               "x": {"field": "t", "type": "quantitative", "scale": {"domain": [-2.32, 2.23], "nice": false, "zero": false},
                     "axis": {"orient": "bottom", "values": [-2, -1.5, -1, -0.5, 0, 0.5, 1, 1.5, 2], "labelExpr": "toString(datum.value)", "tickSize": 7, "labelPadding": 4, "title": "Time (s)", "titlePadding": 10}},
               "y": {"field": "v", "type": "quantitative", "scale": {"domain": [1, 9.93], "nice": false, "zero": false},
                     "axis": {"orient": "left", "values": [1, 2, 3, 4, 5, 6, 7, 8, 9], "labelExpr": "datum.value % 2 == 1 ? toString(datum.value) : ''", "tickSize": 7, "labelPadding": 4, "title": "y(t)", "titlePadding": 4}},
               "color": {"field": "s", "type": "nominal", "scale": {"domain": ["Standard", "Deviant"], "range": ["#EDB120", "#7E2F8E"]},
                         "legend": {"title": null, "legendX": 23, "legendY": 103, "labelExpr": "datum.label == 'Standard' ? 'Time 2 Standard\u00a0\u00a0[N = 22]' : 'Time 2 Deviant\u00a0\u00a0\u00a0\u00a0\u00a0[N = 22]'"}}
             }},
            {"data": {"values": [{"t": -0.57, "v": 9.45, "label": "Standard"}, {"t": 0.55, "v": 9.45, "label": "Target"}]},
             "mark": {"type": "text", "fontSize": 29, "color": "#2b2b2b", "baseline": "middle", "align": "center"},
             "encoding": {
               "x": {"field": "t", "type": "quantitative", "axis": {"orient": "bottom", "values": [-2, -1.5, -1, -0.5, 0, 0.5, 1, 1.5, 2], "tickSize": -7, "labels": false, "domain": false, "title": null}},
               "y": {"field": "v", "type": "quantitative", "axis": {"orient": "left", "values": [1, 2, 3, 4, 5, 6, 7, 8, 9], "tickSize": -7, "labels": false, "domain": false, "title": "×10⁻³", "titleAngle": 0, "titleAlign": "left", "titleBaseline": "middle", "titleX": -55, "titleY": 5, "titleFontSize": 19}},
               "text": {"field": "label"}
             }}
          ],
          "resolve": {"axis": {"x": "independent", "y": "independent"}}
        },
        {
          "width": 938, "height": 519,
          "title": "Time 2 (6 mo): Grand Mean Spectral Envelopes (Target)",
          "layer": [
            {"data": {"values": [{"f": 2.34}, {"f": 4.9}, {"f": 9.9}, {"f": 15.9}, {"f": 25.7}]},
             "mark": {"type": "rule", "color": "#7a7a7a", "strokeWidth": 2.6, "strokeDash": [6, 3]},
             "encoding": {"x": {"field": "f", "type": "quantitative", "scale": {"type": "log", "base": 2, "domain": [1.4, 50], "nice": false}, "axis": null}}},
            {"data": {"name": "t2_freq"},
             "mark": {"type": "line", "strokeWidth": 7, "strokeJoin": "round", "interpolate": "monotone", "clip": true},
             "encoding": {
               "x": {"field": "f", "type": "quantitative", "scale": {"type": "log", "base": 2, "domain": [1.4, 50], "nice": false},
                     "axis": {"orient": "bottom", "values": [2, 4, 8, 16, 32], "labelExpr": "toString(datum.value)", "tickSize": 7, "labelPadding": 4, "title": "Frequency (Hz)", "titlePadding": 10}},
               "y": {"field": "v", "type": "quantitative", "scale": {"domain": [2.18, 5.51], "nice": false, "zero": false},
                     "axis": {"orient": "left", "values": [2.18, 2.5, 3, 3.5, 4, 4.5, 5], "labelExpr": "datum.value < 2.3 ? '2' : (datum.value == floor(datum.value) ? toString(datum.value) : '')", "tickSize": 7, "labelPadding": 4, "title": "y(f)", "titlePadding": 4}},
               "color": {"field": "s", "type": "nominal", "scale": {"domain": ["Standard", "Deviant"], "range": ["#EDB120", "#7E2F8E"]},
                         "legend": {"title": null, "legendX": 515, "legendY": 103, "labelExpr": "datum.label == 'Standard' ? 'Time 2 Standard\u00a0\u00a0[N = 22]' : 'Time 2 Deviant\u00a0\u00a0\u00a0\u00a0\u00a0[N = 22]'"}}
             }},
            {"data": {"values": [{"f": 1.68, "v": 5.32, "label": "[δ]"}, {"f": 12.2, "v": 5.32, "label": "[α]"}, {"f": 19.4, "v": 5.32, "label": "[β]"}, {"f": 34.0, "v": 5.32, "label": "[γ]"}]},
             "mark": {"type": "text", "font": "Liberation Serif", "fontSize": 36, "color": "#999999", "baseline": "middle", "align": "center"},
             "encoding": {
               "x": {"field": "f", "type": "quantitative", "axis": {"orient": "bottom", "values": [2, 4, 8, 16, 32], "tickSize": -7, "labels": false, "domain": false, "title": null}},
               "y": {"field": "v", "type": "quantitative", "axis": {"orient": "left", "values": [2.18, 2.5, 3, 3.5, 4, 4.5, 5], "tickSize": -7, "labels": false, "domain": false, "title": "×10⁻³", "titleAngle": 0, "titleAlign": "left", "titleBaseline": "middle", "titleX": -55, "titleY": 5, "titleFontSize": 19}},
               "text": {"field": "label"}
             }},
            {"data": {"values": [{"f": 3.43, "v": 5.32, "label": "θ"}, {"f": 6.73, "v": 5.32, "label": "θ"}]},
             "mark": {"type": "text", "font": "Liberation Serif", "fontSize": 36, "color": "black", "baseline": "middle", "align": "center"},
             "encoding": {"x": {"field": "f", "type": "quantitative", "axis": null}, "y": {"field": "v", "type": "quantitative", "axis": null}, "text": {"field": "label"}}},
            {"data": {"values": [{"f": 3.43, "v": 5.32, "sub": "1"}, {"f": 6.73, "v": 5.32, "sub": "2"}]},
             "mark": {"type": "text", "font": "Liberation Serif", "fontSize": 24, "color": "black", "baseline": "middle", "align": "left", "dx": 9, "dy": 15},
             "encoding": {"x": {"field": "f", "type": "quantitative", "axis": null}, "y": {"field": "v", "type": "quantitative", "axis": null}, "text": {"field": "sub"}}}
          ],
          "resolve": {"axis": {"x": "independent", "y": "independent"}}
        }
      ],
      "spacing": 125, "bounds": "flush",
      "resolve": {"scale": {"color": "independent"}, "legend": {"color": "independent"}}
    }
  ]
}
